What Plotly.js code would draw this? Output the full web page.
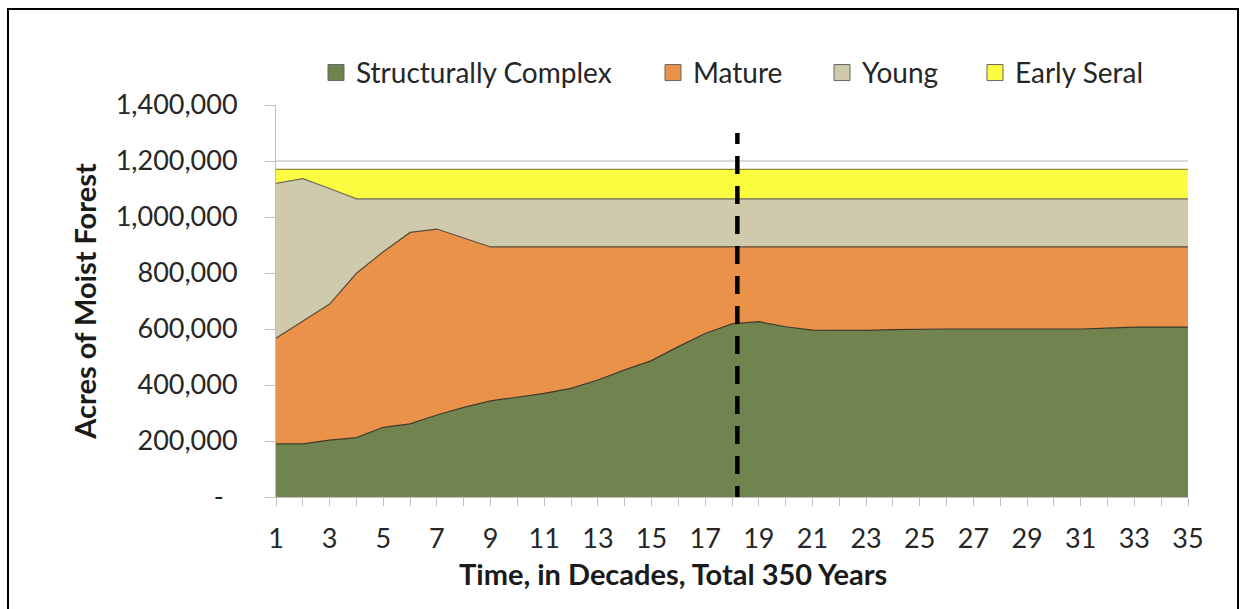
<!DOCTYPE html>
<html>
<head>
<meta charset="utf-8">
<script src="https://cdn.plot.ly/plotly-3.0.1.min.js"></script>
<style>
  html, body { margin: 0; padding: 0; background: #fff; }
  #chart { width: 1243px; height: 609px; position: absolute; left: 0; top: 0; }
  #frame { position: absolute; left: 7px; top: 8px; width: 1228px; height: 620px; border: 2px solid #000; pointer-events: none; }
</style>
</head>
<body>
<div id="chart"></div>
<div id="frame"></div>
<script>
// Decades 1..35
const decades = Array.from({length: 35}, (_, i) => i + 1);

// Acres by class (stacked, bottom to top)
const structurallyComplex = [190000,190000,203000,212000,249000,261000,293000,320000,343000,357000,
  370000,388000,418000,454000,487000,537000,584000,618000,626000,608000,
  596000,595000,595000,598000,600000,600000,600000,600000,600000,600000,
  600000,603000,607000,607000,607000];
const mature = [377000,439000,486000,587000,627000,684000,664000,605000,550000,536000,
  523000,505000,475000,439000,406000,356000,309000,275000,267000,285000,
  297000,298000,298000,295000,293000,293000,293000,293000,293000,293000,
  293000,290000,286000,286000,286000];
const young = [553000,508000,413000,266000,189000,120000,108000,140000,172000,172000,
  172000,172000,172000,172000,172000,172000,172000,172000,172000,172000,
  172000,172000,172000,172000,172000,172000,172000,172000,172000,172000,
  172000,172000,172000,172000,172000];
const earlySeral = [50000,33000,68000,105000,105000,105000,105000,105000,105000,105000,
  105000,105000,105000,105000,105000,105000,105000,105000,105000,105000,
  105000,105000,105000,105000,105000,105000,105000,105000,105000,105000,
  105000,105000,105000,105000,105000];

const seriesNames = ["Structurally Complex", "Mature", "Young", "Early Seral"];
const seriesValues = [structurallyComplex, mature, young, earlySeral];
const fillColors = ["#71844f", "#eb924a", "#cfcaab", "#fcfc40"];
const edgeColors = ["#3d3a2a", "#5a4a3a", "#6b6b5a", "#8f8f3a"];

const xTickVals = [1,3,5,7,9,11,13,15,17,19,21,23,25,27,29,31,33,35];
const yTickVals = [0,200000,400000,600000,800000,1000000,1200000,1400000];
const yTickText = ["-\u00a0\u00a0","200,000","400,000","600,000","800,000","1,000,000","1,200,000","1,400,000"];
const dividerDecade = 18.2;
const dividerTop = 1300000;

const FONT = "Lato, 'Open Sans', sans-serif";
const PLOT_L = 276, PLOT_W = 912;
const legendLeftPx = [316, 653, 822, 975];
const legendIds = ["legend", "legend2", "legend3", "legend4"];

const traces = [];
seriesValues.forEach((vals, i) => {
  traces.push({
    type: "scatter", x: decades, y: vals, stackgroup: "one", mode: "lines",
    name: seriesNames[i], showlegend: false, hoverinfo: "x+y+name",
    line: {color: edgeColors[i], width: 1.2},
    fillcolor: fillColors[i]
  });
});
seriesNames.forEach((n, i) => {
  traces.push({
    type: "scatter", x: [null], y: [null], mode: "markers", name: n,
    legend: legendIds[i],
    marker: {symbol: "square", size: 16, color: fillColors[i], line: {color: "#666", width: 1}},
    showlegend: true
  });
});

const layout = {
  width: 1243, height: 609,
  margin: {l: PLOT_L, r: 55, t: 105, b: 112},
  paper_bgcolor: "#fff", plot_bgcolor: "#fff",
  font: {family: FONT, size: 27, color: "#262626"},
  showlegend: true,
  xaxis: {
    range: [1, 35], tickvals: xTickVals, ticktext: xTickVals.map(String),
    ticks: "outside", ticklen: 8, tickcolor: "#bfbfbf", showline: true, linecolor: "#bfbfbf", linewidth: 1,
    showgrid: false, zeroline: false, ticklabelstandoff: 10,
    tickfont: {family: FONT, size: 27, color: "#262626"},
    minor: {tickvals: decades, ticks: "outside", ticklen: 8, tickcolor: "#bfbfbf", showgrid: false}
  },
  yaxis: {
    range: [0, 1400000], tickvals: yTickVals, ticktext: yTickText,
    ticks: "outside", ticklen: 10, tickcolor: "#bfbfbf", showline: true, linecolor: "#bfbfbf", linewidth: 1,
    showgrid: true, gridcolor: "#d9d9d9", gridwidth: 2, zeroline: false,
    ticklabelstandoff: 22,
    tickfont: {family: FONT, size: 27, color: "#262626"},
    title: {text: "<b>Acres of Moist Forest</b>", font: {family: FONT, size: 29, color: "#1a1a1a"}, standoff: 10}
  },
  shapes: [{
    type: "line", xref: "x", yref: "y", x0: dividerDecade, x1: dividerDecade, y0: -25000, y1: dividerTop,
    line: {color: "#000", width: 4.5, dash: "18px,12px"}, layer: "above"
  }],
  annotations: [{
    text: "<b>Time, in Decades, Total 350 Years</b>", xref: "paper", yref: "paper",
    x: (673 - PLOT_L) / PLOT_W, y: -0.195, xanchor: "center", yanchor: "middle", showarrow: false,
    font: {family: FONT, size: 29, color: "#1a1a1a"}
  }]
};
legendIds.forEach((id, i) => {
  layout[id] = {
    orientation: "h", x: (legendLeftPx[i] - PLOT_L) / PLOT_W, xanchor: "left",
    y: 1.082, yanchor: "middle", bgcolor: "rgba(0,0,0,0)",
    font: {family: FONT, size: 28, color: "#262626"}
  };
});

Plotly.newPlot("chart", traces, layout, {displayModeBar: false, staticPlot: true});
</script>
</body>
</html>
